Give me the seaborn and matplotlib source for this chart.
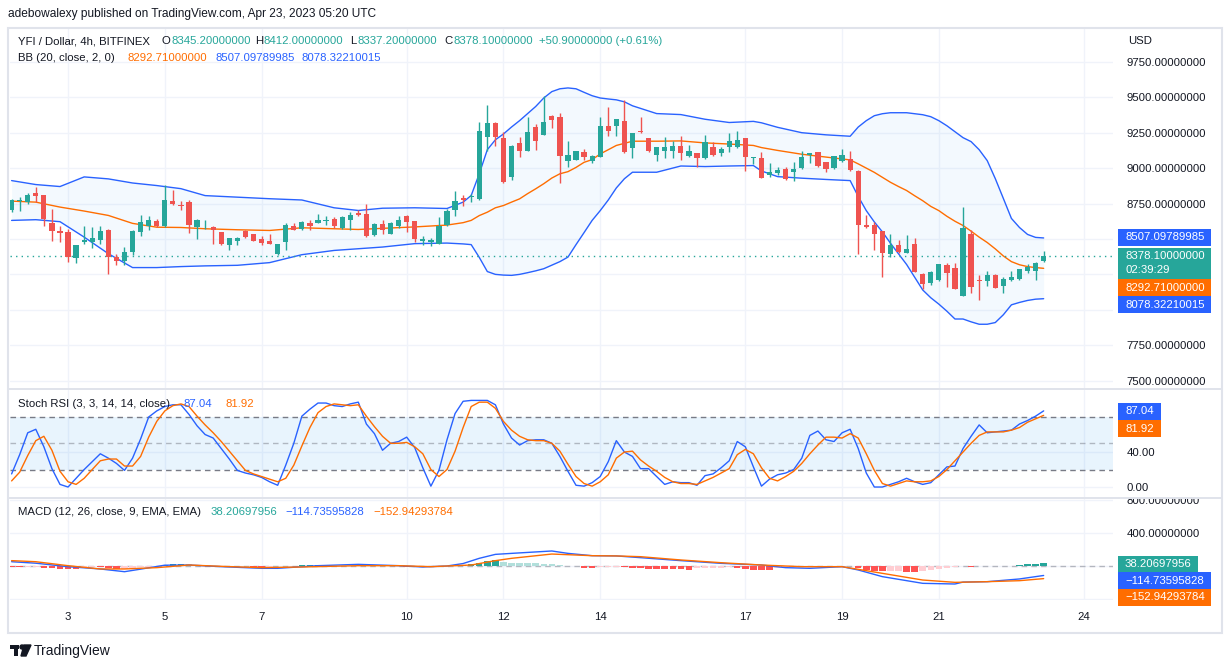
import numpy as np
import pandas as pd
import matplotlib
matplotlib.use("Agg")
import matplotlib.pyplot as plt
from matplotlib.patches import Rectangle, Polygon, Ellipse
import seaborn as sns

sns.set_theme(style="white")
plt.rcParams["font.family"] = ["Liberation Sans", "DejaVu Sans"]

# YFI / Dollar, 4h bars, first bar 2023-04-01 20:00
start = pd.Timestamp("2023-04-01 20:00")
day_ticks = [3, 5, 7, 10, 12, 14, 17, 19, 21, 24]

opens = [
    8701, 8771, 8764, 8823, 8807, 8612, 8555, 8546, 8368, 8478,
    8478, 8495, 8560, 8372, 8344, 8407, 8548, 8595, 8626, 8588,
    8771, 8743, 8760, 8584, 8610, 8584, 8548, 8454, 8485, 8555,
    8532, 8497, 8485, 8391, 8478, 8595, 8572, 8612, 8612, 8630,
    8638, 8576, 8631, 8682, 8673, 8525, 8607, 8537, 8588, 8659,
    8626, 8485, 8481, 8467, 8600, 8701, 8790, 8795, 8783, 9222,
    9316, 9210, 8940, 9175, 9123, 9292, 9236, 9370, 9358, 9053,
    9060, 9111, 9053, 9081, 9300, 9300, 9335, 9140, 9264, 9213,
    9095, 9119, 9119, 9159, 9088, 9104, 9069, 9152, 9104, 9147,
    9147, 9213, 9069, 9072, 8952, 8964, 8995, 8971, 8999, 9095,
    9111, 9041, 8999, 9048, 9065, 8983, 8602, 8602, 8553, 8391,
    8454, 8400, 8462, 8250, 8189, 8208, 8314, 8295, 8098, 8532,
    8208, 8201, 8245, 8168, 8208, 8215, 8271, 8274, 8345.2]
highs = [
    8785, 8795, 8826, 8870, 8812, 8708, 8595, 8572, 8454, 8595,
    8584, 8595, 8572, 8396, 8443, 8560, 8666, 8663, 8643, 8882,
    8847, 8771, 8778, 8638, 8635, 8588, 8550, 8506, 8513, 8565,
    8534, 8518, 8537, 8465, 8612, 8612, 8625, 8631, 8673, 8661,
    8652, 8660, 8689, 8706, 8748, 8612, 8635, 8623, 8661, 8666,
    8628, 8518, 8506, 8654, 8713, 8842, 8811, 8819, 9328, 9447,
    9323, 9252, 9166, 9217, 9363, 9311, 9511, 9372, 9389, 9194,
    9122, 9135, 9095, 9358, 9428, 9347, 9482, 9248, 9363, 9215,
    9147, 9222, 9194, 9229, 9166, 9110, 9236, 9182, 9147, 9248,
    9264, 9215, 9080, 9111, 9037, 9011, 9011, 9041, 9123, 9110,
    9113, 9043, 9088, 9135, 9123, 8985, 8666, 8623, 8555, 8537,
    8490, 8525, 8509, 8260, 8274, 8323, 8330, 8330, 8729, 8560,
    8243, 8271, 8253, 8232, 8271, 8288, 8321, 8337, 8412.0]
lows = [
    8690, 8694, 8748, 8760, 8588, 8485, 8478, 8337, 8330, 8462,
    8438, 8462, 8255, 8314, 8314, 8384, 8518, 8560, 8584, 8584,
    8743, 8701, 8541, 8502, 8567, 8467, 8455, 8424, 8454, 8509,
    8483, 8454, 8462, 8388, 8424, 8560, 8565, 8565, 8610, 8602,
    8579, 8572, 8565, 8663, 8515, 8520, 8532, 8532, 8579, 8548,
    8478, 8454, 8448, 8462, 8588, 8659, 8736, 8760, 8776, 9123,
    9159, 8895, 8917, 9081, 9119, 9128, 9236, 9280, 8894, 9006,
    9058, 9060, 9034, 9081, 9229, 9229, 9104, 9069, 9250, 9111,
    9053, 9069, 9072, 9058, 9081, 9011, 9065, 9088, 9086, 9111,
    9145, 8983, 9030, 8928, 8935, 8952, 8917, 8907, 8997, 9034,
    9006, 8971, 8997, 9041, 8983, 8391, 8579, 8419, 8231, 8372,
    8400, 8398, 8267, 8150, 8173, 8206, 8161, 8145, 8098, 8119,
    8067, 8168, 8154, 8119, 8204, 8213, 8260, 8213, 8337.2]
closes = [
    8776, 8778, 8813, 8802, 8643, 8555, 8545, 8372, 8454, 8492,
    8506, 8555, 8372, 8344, 8407, 8555, 8619, 8631, 8588, 8778,
    8748, 8735, 8602, 8631, 8615, 8560, 8462, 8506, 8509, 8513,
    8485, 8471, 8467, 8462, 8602, 8565, 8623, 8595, 8631, 8636,
    8588, 8654, 8666, 8668, 8520, 8607, 8565, 8612, 8631, 8623,
    8502, 8497, 8495, 8595, 8694, 8771, 8778, 8800, 9259, 9316,
    9217, 8900, 9159, 9119, 9252, 9194, 9328, 9340, 9083, 9095,
    9119, 9081, 9088, 9300, 9259, 9347, 9116, 9248, 9252, 9123,
    9147, 9152, 9159, 9104, 9119, 9072, 9182, 9093, 9135, 9194,
    9199, 9076, 9076, 8928, 8976, 8990, 8924, 8995, 9076, 9104,
    9018, 8995, 9088, 9095, 8987, 8602, 8584, 8537, 8400, 8454,
    8407, 8428, 8267, 8185, 8264, 8321, 8260, 8145, 8576, 8161,
    8201, 8248, 8154, 8220, 8232, 8286, 8302, 8330, 8378.1]

# Bollinger bands (20, 2) read at these bars
bb_idx = [
    0, 3, 6, 9, 12, 15, 18, 21, 24, 28,
    32, 36, 40, 43, 46, 50, 54, 56, 57, 58,
    59, 60, 61, 62, 63, 64, 65, 66, 67, 68,
    69, 70, 71, 72, 73, 74, 75, 76, 77, 80,
    83, 86, 89, 92, 93, 95, 98, 101, 104, 105,
    106, 107, 108, 109, 110, 111, 112, 113, 114, 115,
    116, 117, 118, 119, 120, 121, 122, 123, 124, 125,
    126, 127, 128]
bb_upper = [
    8912, 8884, 8870, 8938, 8924, 8895, 8877, 8855, 8806, 8795,
    8784, 8775, 8720, 8701, 8717, 8720, 8715, 8760, 8807, 8960,
    9130, 9200, 9241, 9290, 9335, 9385, 9435, 9495, 9540, 9560,
    9566, 9560, 9535, 9511, 9495, 9488, 9482, 9468, 9440, 9385,
    9378, 9345, 9322, 9330, 9320, 9288, 9250, 9235, 9225, 9290,
    9335, 9370, 9384, 9391, 9391, 9391, 9384, 9377, 9363, 9335,
    9299, 9257, 9215, 9187, 9130, 9053, 8926, 8786, 8645, 8581,
    8532, 8511, 8507.1]
bb_basis = [
    8767, 8760, 8725, 8697, 8666, 8610, 8583, 8581, 8572, 8565,
    8560, 8579, 8572, 8567, 8575, 8585, 8598, 8615, 8631, 8665,
    8689, 8720, 8736, 8760, 8783, 8820, 8854, 8890, 8930, 8960,
    8975, 9005, 9041, 9060, 9100, 9130, 9160, 9175, 9190, 9190,
    9192, 9178, 9170, 9160, 9145, 9125, 9098, 9078, 9058, 9030,
    9000, 8970, 8935, 8900, 8870, 8842, 8805, 8770, 8730, 8700,
    8660, 8625, 8595, 8555, 8513, 8475, 8430, 8380, 8340, 8318,
    8305, 8298, 8292.71]
bb_lower = [
    8631, 8636, 8622, 8513, 8396, 8298, 8298, 8305, 8310, 8314,
    8333, 8389, 8419, 8431, 8443, 8467, 8471, 8465, 8460, 8370,
    8270, 8250, 8245, 8243, 8250, 8262, 8275, 8290, 8315, 8340,
    8372, 8460, 8545, 8631, 8700, 8775, 8860, 8925, 8971, 8971,
    9015, 9011, 9015, 9018, 8980, 8940, 8929, 8920, 8912, 8800,
    8700, 8620, 8550, 8470, 8395, 8320, 8230, 8140, 8085, 8040,
    7990, 7935, 7935, 7915, 7898, 7898, 7910, 7965, 8035, 8052,
    8066, 8075, 8078.32]

# Stoch RSI (3, 3, 14, 14)
stoch_k = [
    15, 37, 62, 66, 46, 21, 3, 0, 10, 20,
    29, 38, 33, 27, 19, 33, 55, 80, 87, 92,
    94, 94, 83, 70, 60, 56, 44, 32, 19, 16,
    14, 11, 6, 2, 25, 50, 81, 89, 96, 96,
    93, 92, 95, 97, 72, 61, 42, 50, 52, 57,
    45, 22, 1, 19, 54, 84, 98, 99, 99, 99,
    94, 72, 56, 48, 53, 54, 54, 50, 35, 18,
    2, 1, 5, 12, 29, 53, 40, 35, 21, 21,
    12, 3, 6, 5, 5, 2, 13, 15, 22, 30,
    52, 46, 23, 1, 9, 14, 16, 20, 33, 59,
    64, 54, 52, 62, 66, 44, 16, 0, 0, 3,
    6, 10, 6, 3, 5, 14, 23, 24, 44, 58,
    71, 62, 63, 64, 65, 72, 76, 81, 87.04]
stoch_d = [
    7, 17, 36, 53, 58, 42, 18, 6, 3, 10,
    20, 30, 32, 32, 24, 24, 35, 57, 75, 87,
    93, 95, 92, 81, 71, 62, 52, 41, 30, 19,
    15, 12, 9, 6, 10, 25, 47, 68, 85, 92,
    95, 94, 93, 94, 81, 69, 58, 50, 50, 51,
    46, 38, 20, 12, 20, 41, 68, 92, 97, 97,
    90, 75, 65, 58, 54, 53, 53, 50, 41, 26,
    12, 4, 1, 6, 14, 33, 40, 41, 31, 24,
    18, 11, 6, 4, 4, 3, 7, 11, 16, 21,
    37, 43, 38, 22, 10, 7, 12, 18, 27, 38,
    48, 57, 57, 56, 61, 56, 38, 19, 4, 1,
    4, 7, 6, 6, 7, 12, 20, 30, 40, 50,
    59, 63, 63, 63, 65, 68, 74, 78, 81.92]

# MACD (12, 26, 9)
macd_hist = [
    -12, -14, -10, -8, -22, -28, -32, -40, -42, -20,
    -12, -18, -30, -36, -34, -20, -16, -10, -4, 10,
    22, 24, 22, 8, 4, 2, -4, -6, -4, -3,
    -12, -16, -14, -6, -2, 4, 8, 14, 16, 6,
    3, 2, 1, 0, -2, -6, -4, -3, -2, -12,
    -14, -10, -6, -2, 4, 10, 14, 22, 40, 60,
    70, 48, 40, 36, 35, 34, 30, 24, 8, 4,
    -6, -20, -22, -18, -16, -12, -18, -20, -28, -36,
    -36, -40, -40, -42, -44, -30, -26, -24, -20, -14,
    -30, -36, -44, -48, -48, -30, -20, -8, -4, 2,
    4, 2, -2, -4, -6, -30, -45, -55, -62, -58,
    -55, -70, -75, -60, -45, -32, -22, -12, -6, -10,
    -2, 2, 3, 4, 6, 14, 22, 30, 38.21]
macd_idx = [0, 3, 7, 11, 14, 16, 19, 22, 26, 31, 33, 38, 43, 48, 51, 54, 56, 58, 60, 62,
            67, 69, 72, 75, 78, 83, 88, 93, 96, 99, 103, 105, 108, 113, 117, 118, 121, 125, 128]
macd_line = [52, 34, -8, -36, -69, -38, 10, 12, -8, -28, -28, 4, 20, 4, -12, 0, 30, 93, 141, 153,
             182, 153, 125, 122, 101, 65, 32, 12, -20, -28, -8, -48, -129, -210, -218, -195, -190, -157, -114.74]
signal_idx = [0, 3, 7, 11, 14, 18, 22, 26, 31, 36, 43, 48, 52, 57, 60, 62, 67, 72, 75, 78,
              83, 88, 93, 98, 103, 108, 113, 117, 121, 125, 128]
signal_line = [65, 52, 4, -36, -36, -20, 12, -4, -20, -12, 4, 4, -8, 12, 65, 93, 145, 125, 122, 113,
               73, 40, 12, -8, -8, -89, -170, -198, -190, -178, -152.94]

UP, DOWN = "#26a69a", "#ef5350"
BLUE, ORANGE = "#2962ff", "#ff6d00"
TXT = "#131722"
GRID = "#f0f3fa"
FS = 8.2

W, H = 1232, 668
fig = plt.figure(figsize=(W / 100, H / 100), dpi=100)


def pane(top, bottom):
    return fig.add_axes([10 / W, 1 - bottom / H, 1103 / W, (bottom - top) / H])


def ftext(x, y, s, **kw):
    kw.setdefault("fontsize", FS)
    kw.setdefault("color", TXT)
    return fig.text(x / W, 1 - y / H, s, va="center", ha="left", **kw)


def frect(x0, y0, x1, y1, color, z=5):
    fig.add_artist(Rectangle((x0 / W, 1 - y1 / H), (x1 - x0) / W, (y1 - y0) / H,
                             transform=fig.transFigure, color=color, lw=0, zorder=z))


ax = pane(29, 388)
ax_rsi = pane(390, 497)
ax_macd = pane(499, 600)

n = len(closes)
bars = np.arange(n)
tick_pos = [(pd.Timestamp(2023, 4, d) - start) / pd.Timedelta(hours=4) for d in day_ticks]

for a in (ax, ax_rsi, ax_macd):
    a.set_facecolor("white")
    for s in a.spines.values():
        s.set_visible(False)
    a.set_xlim(-0.2, 136.6)
    a.set_xticks(tick_pos)
    a.tick_params(axis="x", length=0, labelbottom=False)
    a.yaxis.tick_right()
    a.tick_params(axis="y", length=0, pad=10, labelsize=FS, labelcolor=TXT)
    a.grid(True, color=GRID, lw=1)
    a.set_axisbelow(True)

# main pane: candles + bollinger
o, hi, lo, c = (np.array(v, float) for v in (opens, highs, lows, closes))
col = np.where(c >= o, UP, DOWN)
ax.fill_between(bb_idx, bb_lower, bb_upper, color="#2196f3", alpha=0.05, lw=0, zorder=1)
sns.lineplot(x=bb_idx, y=bb_upper, ax=ax, color=BLUE, lw=1, zorder=2)
sns.lineplot(x=bb_idx, y=bb_lower, ax=ax, color=BLUE, lw=1, zorder=2)
sns.lineplot(x=bb_idx, y=bb_basis, ax=ax, color=ORANGE, lw=1, zorder=2)
ax.axhline(closes[-1], color=UP, lw=1, ls=(0, (1, 3)), zorder=2)
ax.vlines(bars, lo, hi, colors=col, lw=1, zorder=3)
ax.bar(bars, np.maximum(np.abs(c - o), 5), bottom=np.minimum(o, c), width=0.65,
       color=col, lw=0, zorder=4)
ax.set_ylim(7448, 9982)
price_ticks = np.arange(7500, 9751, 250)
ax.set_yticks(price_ticks)
# the 8000/8250/8500 labels sit behind the coloured price boxes
ax.set_yticklabels(["" if 7900 < v < 8600 else f"{v:.8f}" for v in price_ticks])

# stoch rsi pane
ax_rsi.axhspan(20, 80, color="#2196f3", alpha=0.1, lw=0)
for lvl, al in ((80, 1.0), (50, 0.5), (20, 1.0)):
    ax_rsi.axhline(lvl, color="#787b86", lw=1, ls=(0, (4, 3)), alpha=al)
sns.lineplot(x=bars, y=stoch_k, ax=ax_rsi, color=BLUE, lw=1)
sns.lineplot(x=bars, y=stoch_d, ax=ax_rsi, color=ORANGE, lw=1)
ax_rsi.set_ylim(-11.4, 110.9)
ax_rsi.set_yticks([0, 40])
ax_rsi.set_yticklabels(["0.00", "40.00"])

# macd pane
hist = np.array(macd_hist, float)
prev = np.r_[hist[0], hist[:-1]]
hcol = np.where(hist >= 0, np.where(hist >= prev, "#26a69a", "#b2dfdb"),
                np.where(hist > prev, "#ffcdd2", "#ff5252"))
ax_macd.bar(bars, hist, width=0.8, color=hcol, lw=0, zorder=2)
ax_macd.axhline(0, color="#787b86", alpha=0.5, lw=1, ls=(0, (4, 3)), zorder=1)
sns.lineplot(x=macd_idx, y=macd_line, ax=ax_macd, color=BLUE, lw=1, zorder=3)
sns.lineplot(x=signal_idx, y=signal_line, ax=ax_macd, color=ORANGE, lw=1, zorder=3)
ax_macd.set_ylim(-412, 812)
macd_ticks = [-400, 0, 400, 800]
ax_macd.set_yticks(macd_ticks)
ax_macd.set_yticklabels(["" if v <= 0 else f"{v:.8f}" for v in macd_ticks])
ax_macd.tick_params(axis="x", labelbottom=True, pad=8.5, labelsize=FS, labelcolor=TXT)
ax_macd.set_xticklabels([str(d) for d in day_ticks])

for a in (ax, ax_rsi, ax_macd):
    a.set_xlabel("")
    a.set_ylabel("")

# frame and pane separators
fig.add_artist(Rectangle((8 / W, 1 - 633 / H), 1214 / W, 605 / H, transform=fig.transFigure,
                         fill=False, edgecolor="#e0e3eb", lw=1.5, zorder=7))
frect(1113, 491, 1221, 498, "white", z=6)
for yy in (389, 498):
    frect(8, yy - 1, 1222, yy + 1, "#e0e3eb", z=7)

# header texts
ftext(8, 14, "adebowalexy published on TradingView.com, Apr 23, 2023 05:20 UTC", fontsize=8.6)
ftext(18, 41, "YFI / Dollar, 4h, BITFINEX")
for lab, lx, val, vx in (("O", 162, "8345.20000000", 172), ("H", 255, "8412.00000000", 264),
                         ("L", 350, "8337.20000000", 357), ("C", 444, "8378.10000000", 453)):
    ftext(lx, 41, lab)
    ftext(vx, 41, val, color=UP)
ftext(539, 41, "+50.90000000 (+0.61%)", color=UP)
ftext(18, 58, "BB (20, close, 2, 0)")
ftext(128, 58, "8292.71000000", color=ORANGE)
ftext(215, 58, "8507.09789985", color=BLUE)
ftext(302, 58, "8078.32210015", color=BLUE)
ftext(18, 404, "Stoch RSI (3, 3, 14, 14, close)")
ftext(184, 404, "87.04", color=BLUE)
ftext(225, 404, "81.92", color=ORANGE)
ftext(18, 512, "MACD (12, 26, close, 9, EMA, EMA)")
ftext(211, 512, "38.20697956", color=UP)
ftext(285, 512, "\u2212114.73595828", color=BLUE)
ftext(373, 512, "\u2212152.94293784", color=ORANGE)
ftext(1128, 41, "USD")

# price scale labels
for yc, s, colr, x1, h in ((237, "8507.09789985", BLUE, 1211, 17),
                           (287.5, "8292.71000000", ORANGE, 1211, 17),
                           (304.5, "8078.32210015", BLUE, 1211, 17),
                           (411, "87.04", BLUE, 1161, 17),
                           (428.5, "81.92", ORANGE, 1161, 17),
                           (564, "38.20697956", UP, 1198, 16),
                           (580.5, "\u2212114.73595828", BLUE, 1211, 17),
                           (597, "\u2212152.94293784", ORANGE, 1211, 17)):
    frect(1118, yc - h / 2, x1, yc + h / 2, colr, z=8)
    ftext(1125, yc, s, color="white", zorder=9)
frect(1118, 248, 1211, 278.5, UP, z=8)
ftext(1125, 256, "8378.10000000", color="white", zorder=9)
ftext(1125, 270, "02:39:29", color="white", zorder=9)

# tradingview mark
frect(10, 645, 19, 649, TXT, z=5)
frect(14, 645, 18, 656, TXT, z=5)
fig.add_artist(Ellipse((22 / W, 1 - 647 / H), 4 / W, 4 / H, transform=fig.transFigure, color=TXT))
fig.add_artist(Polygon([(24 / W, 1 - 645 / H), (31 / W, 1 - 645 / H), (26 / W, 1 - 656 / H),
                        (21 / W, 1 - 656 / H)], closed=True, transform=fig.transFigure, color=TXT))
ftext(34, 651, "TradingView", fontsize=10)

fig.savefig("out.png", dpi=100)
